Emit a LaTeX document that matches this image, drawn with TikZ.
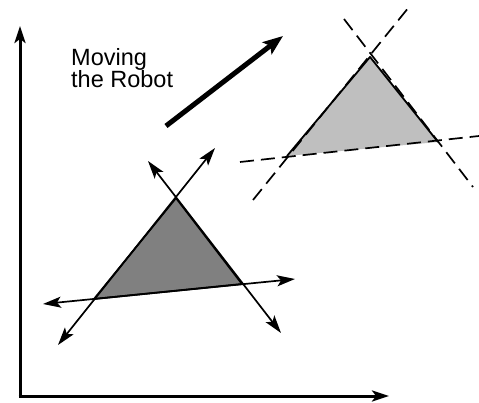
\documentclass[tikz,border=0pt]{standalone}
\usepackage{fontspec}
\setmainfont{Liberation Sans}
\usetikzlibrary{arrows.meta}
\begin{document}
\begin{tikzpicture}[x=1pt,y=-1pt,
  axis/.style={line width=3pt,-{Stealth[length=17pt,width=11pt,inset=4pt]}},
  thinarr/.style={line width=1.7pt,{Stealth[length=18pt,width=11pt,inset=4pt]}-{Stealth[length=18pt,width=11pt,inset=4pt]}},
  dashline/.style={line width=1.7pt,dash pattern=on 14pt off 7pt},
  tri/.style={draw=black,line width=1.8pt,line join=round}]
\useasboundingbox (0,0) rectangle (479,403);
% axes
\coordinate (O) at (20,396);
\coordinate (Ytip) at (20,26);
\coordinate (Xtip) at (389,396);
\draw[axis] ([yshift=1.5pt]O) -- (Ytip);
\draw[axis] ([xshift=-1.5pt]O) -- (Xtip);
% lower triangle
\coordinate (A) at (94,299);
\coordinate (B) at (176,198);
\coordinate (C) at (242,284);
\fill[fill=black!50] (A) -- (B) -- (C) -- cycle;
\draw[tri] (A) -- (B) -- (C) -- cycle;
\coordinate (l1a) at (58,345);
\coordinate (l1b) at (215,148);
\coordinate (l2a) at (148,161);
\coordinate (l2b) at (281,333);
\coordinate (l3a) at (43,304);
\coordinate (l3b) at (295,279);
\draw[thinarr] (l1a) -- (l1b);
\draw[thinarr] (l2a) -- (l2b);
\draw[thinarr] (l3a) -- (l3b);
% upper triangle
\coordinate (D) at (287,156);
\coordinate (E) at (370,57);
\coordinate (F) at (438,142);
\fill[fill=black!25] (D) -- (E) -- (F) -- cycle;
\draw[tri] (D) -- (E) -- (F);
\coordinate (d1a) at (253,200);
\coordinate (d1b) at (409,7);
\coordinate (d2a) at (344,19);
\coordinate (d2b) at (473,187);
\coordinate (d3a) at (240,162);
\coordinate (d3b) at (479,136);
\draw[dashline] (d1a) -- (d1b);
\draw[dashline] (d2a) -- (d2b);
\draw[dashline] (d3a) -- (d3b);
% moving arrow
\coordinate (M1) at (166,126);
\coordinate (M2) at (283,36);
\draw[line width=5pt,-{Stealth[length=20pt,width=15pt,inset=4pt]}] (M1) -- (M2);
\node[anchor=north west,inner sep=0pt,font=\fontsize{23.5}{22}\selectfont,align=left] (txt) at (71,48) {Moving\\the Robot};
\end{tikzpicture}
\end{document}
